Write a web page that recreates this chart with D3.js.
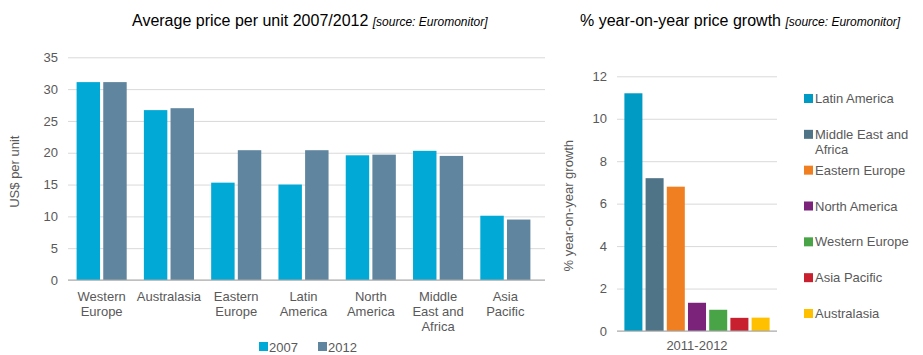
<!DOCTYPE html>
<html><head><meta charset="utf-8">
<script src="https://cdn.jsdelivr.net/npm/d3@7/dist/d3.min.js"></script>
<style>
body{margin:0;background:#fff;}
text{font-family:"Liberation Sans",Arial,sans-serif;}
</style></head>
<body><svg id="c" width="923" height="355"></svg>
<script>
const regions = ["Western Europe","Australasia","Eastern Europe","Latin America","North America","Middle East and Africa","Asia Pacific"];
const regionLabels = [["Western","Europe"],["Australasia"],["Eastern","Europe"],["Latin","America"],["North","America"],["Middle","East and","Africa"],["Asia","Pacific"]];
const years = ["2007","2012"];
const price2007 = [31.1,26.7,15.3,15.0,19.6,20.3,10.1];
const price2012 = [31.1,27.0,20.4,20.4,19.7,19.5,9.5];
const yearColors = ["#00A9D6","#5F859F"];
const priceTicks = [0,5,10,15,20,25,30,35];

const growthRegions = ["Latin America","Middle East and Africa","Eastern Europe","North America","Western Europe","Asia Pacific","Australasia"];
const growthLegendLabels = [["Latin America"],["Middle East and","Africa"],["Eastern Europe"],["North America"],["Western Europe"],["Asia Pacific"],["Australasia"]];
const growthValues = [11.2,7.2,6.8,1.33,1.0,0.62,0.63];
const growthColors = ["#009BC4","#4F7488","#F07F22","#7B237A","#48A447","#C8202F","#FFC000"];
const growthTicks = [0,2,4,6,8,10,12];
const period = "2011-2012";

const svg = d3.select("#c");
const txt = "#595959";

// ---------- Left chart ----------
const L = {x0:68, x1:539, y0:280, y1:57.3};
const yL = d3.scaleLinear().domain([0,35]).range([L.y0,L.y1]);
const xL = d3.scaleBand().domain(regions).range([L.x0,L.x1]).paddingInner(0).paddingOuter(0);
const xSub = d3.scaleBand().domain(years).range([8.6, xL.bandwidth()-8.6]).paddingInner(0.12);

svg.append("text").attr("x",132).attr("y",26).attr("font-size",16).attr("fill","#000")
  .text("Average price per unit 2007/2012 ")
  .append("tspan").attr("font-style","italic").attr("font-size",12).text("[source: Euromonitor]");

const gL = svg.append("g");
const axL = d3.axisLeft(yL).tickValues(priceTicks).tickSize(-(545-L.x0)).tickPadding(10);
gL.append("g").attr("transform",`translate(${L.x0},0)`).call(axL)
  .call(g=>g.select(".domain").remove())
  .call(g=>g.selectAll(".tick line").attr("stroke","#d9d9d9"))
  .call(g=>g.selectAll(".tick text").attr("fill",txt).attr("font-size",13).attr("font-family","Liberation Sans, Arial, sans-serif"));

regions.forEach((r,i)=>{
  [price2007[i],price2012[i]].forEach((v,j)=>{
    gL.append("rect").attr("x",xL(r)+xSub(years[j])).attr("width",xSub.bandwidth())
      .attr("y",yL(v)).attr("height",yL(0)-yL(v)).attr("fill",yearColors[j]);
  });
  const t = gL.append("text").attr("text-anchor","middle").attr("fill",txt).attr("font-size",13)
    .attr("x",xL(r)+xL.bandwidth()/2).attr("y",301);
  regionLabels[i].forEach((l,k)=>t.append("tspan").attr("x",xL(r)+xL.bandwidth()/2).attr("dy",k?15:0).text(l));
});
gL.append("line").attr("x1",L.x0).attr("x2",545).attr("y1",yL(0)).attr("y2",yL(0)).attr("stroke","#a6a6a6");

svg.append("text").attr("transform",`translate(19,${(L.y0+L.y1)/2+3}) rotate(-90)`).attr("text-anchor","middle")
  .attr("fill",txt).attr("font-size",13).text("US$ per unit");

// legend left
const legX = [259,318];
years.forEach((y,j)=>{
  svg.append("rect").attr("x",legX[j]).attr("y",342).attr("width",9).attr("height",9).attr("fill",yearColors[j]);
  svg.append("text").attr("x",legX[j]+10).attr("y",352).attr("fill",txt).attr("font-size",13).text(y);
});

// ---------- Right chart ----------
const R = {x0:617, x1:777, y0:331, y1:76.3};
const yR = d3.scaleLinear().domain([0,12]).range([R.y0,R.y1]);
const xR = d3.scaleBand().domain(growthRegions).range([R.x0+5.8,R.x1-5.8]).paddingInner(0.15).paddingOuter(0.075);

svg.append("text").attr("x",580).attr("y",26).attr("font-size",16).attr("fill","#000")
  .text("% year-on-year price growth ")
  .append("tspan").attr("font-style","italic").attr("font-size",12).text("[source: Euromonitor]");

const gR = svg.append("g");
gR.append("g").attr("transform",`translate(${R.x0},0)`)
  .call(d3.axisLeft(yR).tickValues(growthTicks).tickSize(-(R.x1-R.x0)).tickPadding(10))
  .call(g=>g.select(".domain").remove())
  .call(g=>g.selectAll(".tick line").attr("stroke","#d9d9d9"))
  .call(g=>g.selectAll(".tick text").attr("fill",txt).attr("font-size",13).attr("font-family","Liberation Sans, Arial, sans-serif"));

growthRegions.forEach((r,i)=>{
  gR.append("rect").attr("x",xR(r)).attr("width",xR.bandwidth()).attr("y",yR(growthValues[i]))
    .attr("height",yR(0)-yR(growthValues[i])).attr("fill",growthColors[i]);
});
gR.append("line").attr("x1",R.x0).attr("x2",R.x1).attr("y1",yR(0)).attr("y2",yR(0)).attr("stroke","#a6a6a6");
gR.append("text").attr("x",(R.x0+R.x1)/2).attr("y",350).attr("text-anchor","middle").attr("fill",txt).attr("font-size",13).text(period);

svg.append("text").attr("transform",`translate(573,${(R.y0+R.y1)/2+2}) rotate(-90)`).attr("text-anchor","middle")
  .attr("fill",txt).attr("font-size",13).text("% year-on-year growth");

// legend right
const legY = d3.scaleLinear().domain([0,6]).range([103,318]);
growthRegions.forEach((r,i)=>{
  const y = legY(i);
  svg.append("rect").attr("x",804).attr("y",y-9).attr("width",9).attr("height",9).attr("fill",growthColors[i]);
  const t = svg.append("text").attr("x",815).attr("y",y).attr("fill",txt).attr("font-size",13);
  growthLegendLabels[i].forEach((l,k)=>t.append("tspan").attr("x",815).attr("dy",k?15:0).text(l));
});
</script></body></html>
